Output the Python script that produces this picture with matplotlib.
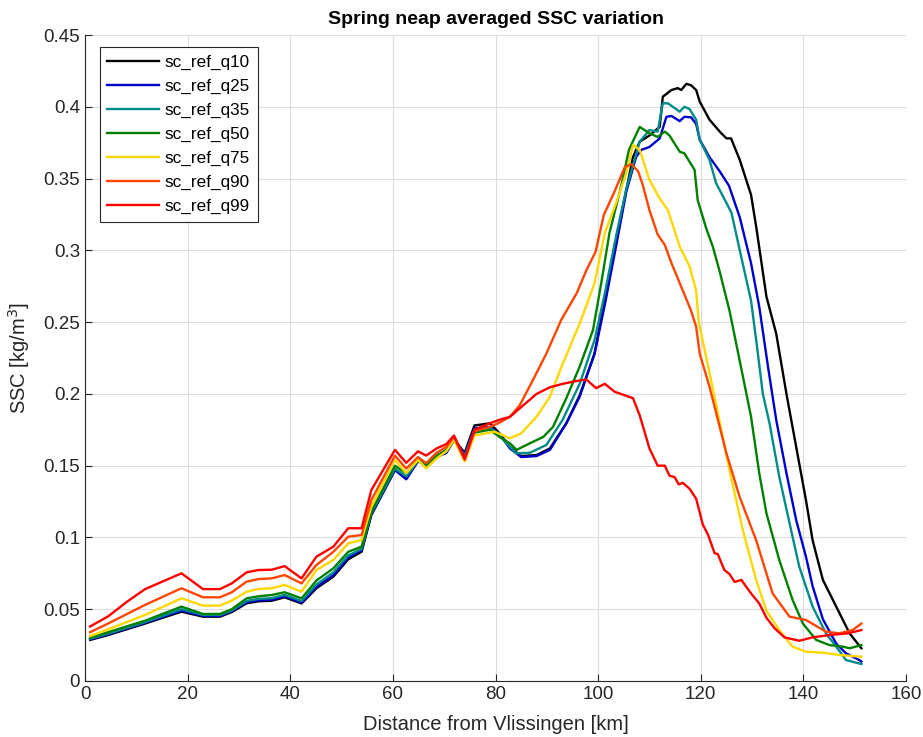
import numpy as np
import matplotlib
matplotlib.use("Agg")
import matplotlib.pyplot as plt

plt.rcParams["font.family"] = ["Liberation Sans", "DejaVu Sans"]

# --- distance along the estuary (km), shared seaward part ---
km_sea = [1, 4.5, 8.1, 11.7, 18.8, 23, 26.3, 28.6, 31.5, 33.8, 36.4, 38.9, 42.2,
          45.1, 48.4, 51.3, 53.9, 55.8, 60.4, 62.6, 64.9, 66.5, 68.5, 70.4, 71.9,
          74, 75.9, 78.9]

# --- q10 ---
q10_km = km_sea + [80.8, 82.8, 85, 88, 90.6, 93.8, 96.4, 99.3, 102.2, 105.2, 106.8,
                   108.1, 110, 112, 112.6, 114.3, 115.5, 116.2, 117.2, 118.1, 119.1,
                   119.8, 121.7, 123.7, 125, 125.9, 127.6, 129.8, 130.8, 132.8, 134.7,
                   136.7, 138.6, 140.5, 141.8, 143.8, 146.4, 149, 151.3]
q10_ssc = [0.0286, 0.032, 0.036, 0.040, 0.0483, 0.0448, 0.0448, 0.048, 0.0541, 0.0555,
           0.0559, 0.0583, 0.054, 0.0646, 0.0727, 0.0848, 0.090, 0.1156, 0.147, 0.141,
           0.154, 0.151, 0.156, 0.159, 0.168, 0.159, 0.178, 0.1795,
           0.1725, 0.163, 0.1567, 0.1574, 0.162, 0.1795, 0.199, 0.228, 0.283, 0.337, 0.365,
           0.3757, 0.380, 0.386, 0.407, 0.4117, 0.413, 0.4117, 0.416, 0.415, 0.4117,
           0.4036, 0.391, 0.3827, 0.378, 0.378, 0.363, 0.3386, 0.3165, 0.2677, 0.242,
           0.200, 0.163, 0.126, 0.098, 0.0704, 0.0518, 0.0332, 0.0228]

# --- q25 ---
q25_km = km_sea + [80.8, 82.8, 85, 88, 90.6, 93.8, 96.4, 99.3, 101.3, 103.5, 105.5,
                   107.4, 108.4, 110, 112, 113.3, 114.3, 115.9, 116.8, 118.1, 119.1,
                   119.8, 121.7, 123.7, 125.5, 127.6, 129.8, 131.4, 133.1, 134.7, 136.7,
                   138.6, 140.5, 141.8, 143.8, 146.4, 148.3, 150.9, 151.3]
q25_ssc = [0.029, 0.0325, 0.0365, 0.0405, 0.049, 0.0453, 0.0453, 0.0485, 0.0548, 0.0562,
           0.0566, 0.059, 0.0547, 0.0655, 0.0737, 0.086, 0.0912, 0.116, 0.147, 0.1405,
           0.153, 0.1505, 0.156, 0.159, 0.168, 0.158, 0.176, 0.177,
           0.172, 0.162, 0.156, 0.1567, 0.161, 0.1795, 0.198, 0.228, 0.262, 0.303, 0.341,
           0.365, 0.370, 0.372, 0.378, 0.393, 0.3936, 0.390, 0.393, 0.3927, 0.388,
           0.377, 0.365, 0.355, 0.345, 0.323, 0.291, 0.2607, 0.219, 0.182, 0.1447,
           0.112, 0.0866, 0.066, 0.043, 0.026, 0.0193, 0.0146, 0.0135]

# --- q35 ---
q35_km = km_sea + [80.8, 82.8, 84.1, 86.7, 89.9, 93.1, 96.4, 99.3, 101.3, 103.5, 105.5,
                   108.1, 110, 111.6, 112.6, 113.6, 115.9, 116.8, 117.8, 119.1, 119.8,
                   121.7, 123, 125, 126, 127.6, 129.8, 130.8, 132.1, 133.4, 135.3, 137.3,
                   139.2, 141.8, 144.4, 146.4, 148.3, 151.3]
q35_ssc = [0.0295, 0.033, 0.037, 0.041, 0.050, 0.046, 0.046, 0.049, 0.0558, 0.0572,
           0.0577, 0.060, 0.0557, 0.0672, 0.0757, 0.0875, 0.092, 0.117, 0.148, 0.1425,
           0.1535, 0.150, 0.1565, 0.160, 0.168, 0.157, 0.175, 0.1765,
           0.171, 0.163, 0.1586, 0.159, 0.1644, 0.182, 0.207, 0.2375, 0.270, 0.310, 0.343,
           0.3757, 0.3838, 0.3827, 0.4024, 0.4024, 0.3966, 0.400, 0.3985, 0.391, 0.377,
           0.363, 0.3467, 0.333, 0.326, 0.300, 0.265, 0.2375, 0.200, 0.1795, 0.1423,
           0.110, 0.0796, 0.0518, 0.0332, 0.0239, 0.0146, 0.0118]

# --- q50 ---
q50_km = km_sea + [80.8, 82.8, 84.1, 86.7, 89.3, 91.2, 93.8, 96.4, 99, 100.6, 102.2,
                   104.5, 106, 108.1, 110, 111.6, 113, 113.9, 115.9, 116.8, 118.8, 119.4,
                   121, 122.4, 123.7, 125.6, 128.9, 129.8, 131.4, 132.8, 135.3, 137.9,
                   139.9, 142.5, 145.1, 147.7, 149, 151.3]
q50_ssc = [0.030, 0.034, 0.038, 0.042, 0.0518, 0.0467, 0.0467, 0.050, 0.0576, 0.059,
           0.0599, 0.0618, 0.0576, 0.070, 0.0785, 0.090, 0.0936, 0.118, 0.150, 0.1447,
           0.154, 0.150, 0.157, 0.161, 0.169, 0.156, 0.173, 0.175,
           0.170, 0.1656, 0.161, 0.1656, 0.170, 0.177, 0.197, 0.219, 0.2445, 0.277, 0.312,
           0.345, 0.370, 0.386, 0.3815, 0.379, 0.3827, 0.380, 0.3687, 0.3676, 0.356,
           0.335, 0.316, 0.302, 0.285, 0.258, 0.200, 0.184, 0.1447, 0.1168, 0.0843,
           0.0564, 0.040, 0.0286, 0.025, 0.0239, 0.0228, 0.025]

# --- q75 ---
q75_km = km_sea + [79.8, 82.8, 85, 88, 90.6, 93.1, 96.4, 99.3, 101.3, 103.5, 105.5,
                   106.8, 108.1, 110, 112, 113.6, 115.9, 117.8, 119.1, 119.6, 122,
                   125.6, 128.2, 130.8, 132.8, 135.3, 137.9, 140.5, 143.8, 147, 151.3]
q75_ssc = [0.0313, 0.036, 0.041, 0.046, 0.0576, 0.0525, 0.0525, 0.056, 0.0622, 0.0641,
           0.0646, 0.0669, 0.0622, 0.0773, 0.0843, 0.0959, 0.0982, 0.1214, 0.154, 0.1447,
           0.154, 0.148, 0.155, 0.160, 0.168, 0.153, 0.171, 0.173,
           0.1737, 0.169, 0.1725, 0.184, 0.198, 0.221, 0.249, 0.277, 0.312, 0.333, 0.354,
           0.3734, 0.370, 0.349, 0.336, 0.328, 0.3026, 0.289, 0.272, 0.250, 0.2097,
           0.147, 0.105, 0.0704, 0.049, 0.0355, 0.0239, 0.0204, 0.0197, 0.0181, 0.0169]

# --- q90 ---
q90_km = km_sea + [80.8, 82.8, 84.7, 87.3, 89.9, 92.8, 95.8, 97.7, 99.5, 101.1, 103.2,
                   105.2, 106.5, 107.8, 108.7, 110, 111.6, 113, 114.3, 116.5, 118.1,
                   119.1, 119.8, 121.7, 125, 127.6, 130.8, 134, 137.3, 140.5, 144.4,
                   147, 149.6, 151.3]
q90_ssc = [0.034, 0.040, 0.0465, 0.053, 0.0646, 0.0583, 0.0583, 0.0618, 0.0692, 0.071,
           0.0715, 0.0738, 0.068, 0.0808, 0.090, 0.1005, 0.1017, 0.126, 0.157, 0.148,
           0.156, 0.1517, 0.159, 0.163, 0.170, 0.154, 0.174, 0.177,
           0.180, 0.184, 0.192, 0.2097, 0.228, 0.2515, 0.270, 0.286, 0.299, 0.3246, 0.341,
           0.358, 0.360, 0.355, 0.3455, 0.328, 0.311, 0.3037, 0.291, 0.272, 0.258,
           0.2468, 0.228, 0.205, 0.1586, 0.128, 0.098, 0.061, 0.0448, 0.0425, 0.0343,
           0.0332, 0.0355, 0.040]

# --- q99 ---
q99_km = km_sea + [80.8, 82.8, 85.4, 88, 90.6, 93.1, 95.8, 97.7, 99.6, 101.3, 103.2,
                   106.8, 108.1, 110, 111.6, 113, 113.9, 114.9, 115.7, 116.5, 117.8,
                   119.1, 120.4, 121.4, 122.7, 123.3, 124.6, 125.6, 126.6, 127.9, 129.8,
                   131.4, 132.8, 134.4, 136.3, 139.2, 141.8, 145.1, 148.7, 151.3]
q99_ssc = [0.038, 0.045, 0.055, 0.064, 0.075, 0.064, 0.064, 0.068, 0.0757, 0.0773,
           0.0775, 0.080, 0.0715, 0.0866, 0.0936, 0.1064, 0.1064, 0.133, 0.161, 0.152,
           0.160, 0.157, 0.162, 0.165, 0.171, 0.155, 0.175, 0.1795,
           0.182, 0.184, 0.192, 0.200, 0.2046, 0.207, 0.209, 0.210, 0.204, 0.207, 0.2015,
           0.197, 0.185, 0.162, 0.150, 0.150, 0.143, 0.142, 0.137, 0.138, 0.134,
           0.127, 0.109, 0.102, 0.089, 0.0885, 0.0773, 0.0745, 0.069, 0.0704, 0.061,
           0.054, 0.044, 0.0367, 0.0304, 0.028, 0.0304, 0.032, 0.0332, 0.0355]

labels = ["sc_ref_q10", "sc_ref_q25", "sc_ref_q35", "sc_ref_q50",
          "sc_ref_q75", "sc_ref_q90", "sc_ref_q99"]
colors = ["#000000", "#0000CC", "#008B8B", "#008000", "#FFD700", "#FF4500", "#FF0000"]
series = [(q10_km, q10_ssc), (q25_km, q25_ssc), (q35_km, q35_ssc), (q50_km, q50_ssc),
          (q75_km, q75_ssc), (q90_km, q90_ssc), (q99_km, q99_ssc)]

fig = plt.figure(figsize=(9.23, 7.37), dpi=100)
ax = fig.add_axes([0.0921, 0.076, 0.8895, 0.8765])

for (x, y), lab, col in zip(series, labels, colors):
    ax.plot(x, y, color=col, linewidth=1.7, label=lab)

ax.set_xlim(0, 160)
ax.set_ylim(0, 0.45)
ax.set_xticks(np.arange(0, 161, 20))
ax.set_yticks(np.arange(0, 0.451, 0.05))
ax.set_yticklabels([f"{v:g}" for v in np.round(np.arange(0, 0.451, 0.05), 2)])

ax.grid(True, color="#dcdcdc", linewidth=0.8)
ax.set_axisbelow(True)
for side in ["top", "right"]:
    ax.spines[side].set_visible(False)
for side in ["left", "bottom"]:
    ax.spines[side].set_color("#262626")
    ax.spines[side].set_linewidth(0.8)
ax.tick_params(direction="in", length=5, width=0.8, colors="#262626",
               labelsize=13.5, labelcolor="#262626")

ax.set_xlabel("Distance from Vlissingen [km]", fontsize=14.5, color="#262626", labelpad=9)
ax.set_ylabel("SSC [kg/m$^3$]", fontsize=14.5, color="#262626", labelpad=8)
ax.set_title("Spring neap averaged SSC variation", fontsize=14, fontweight="bold", pad=8)

leg = ax.legend(loc="upper left", bbox_to_anchor=(0.018, 0.981), borderaxespad=0,
                fontsize=12.3, frameon=True, fancybox=False, framealpha=1,
                edgecolor="#262626", handlelength=3.0, handletextpad=0.35,
                labelspacing=0.52, borderpad=0.45)
leg.get_frame().set_linewidth(0.8)

fig.savefig("out.png", dpi=100)
